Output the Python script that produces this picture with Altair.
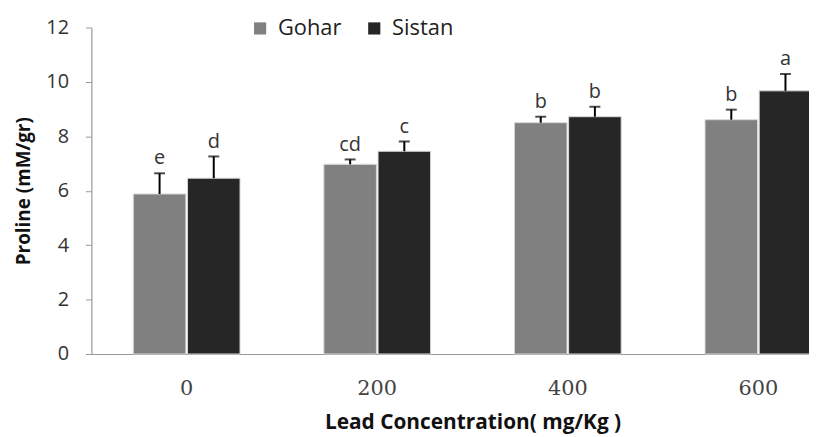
import altair as alt
import pandas as pd

# ---- data ----
concentrations = ["0", "200", "400", "600"]
varieties = ["Gohar", "Sistan"]
gohar_mean = [5.88, 6.97, 8.50, 8.61]
gohar_err = [0.76, 0.18, 0.22, 0.37]
sistan_mean = [6.46, 7.45, 8.72, 9.67]
sistan_err = [0.80, 0.36, 0.37, 0.62]
gohar_letters = ["e", "cd", "b", "b"]
sistan_letters = ["d", "c", "b", "a"]

rows = []
for i, c in enumerate(concentrations):
    rows.append({"conc": c, "variety": "Gohar", "mean": gohar_mean[i],
                 "upper": gohar_mean[i] + gohar_err[i], "letter": gohar_letters[i]})
    rows.append({"conc": c, "variety": "Sistan", "mean": sistan_mean[i],
                 "upper": sistan_mean[i] + sistan_err[i], "letter": sistan_letters[i]})
df = pd.DataFrame(rows)

SANS = "Open Sans"

x_enc = alt.X(
    "conc:N",
    sort=concentrations,
    scale=alt.Scale(range=[0, 768], paddingInner=0.44, paddingOuter=0.22),
    axis=alt.Axis(
        title="Lead Concentration( mg/Kg )",
        titleFont=SANS, titleFontSize=21, titleFontWeight="bold", titleColor="#111",
        titlePadding=13,
        labelFont="DejaVu Serif", labelFontSize=21, labelColor="#444",
        labelAngle=0, labelPadding=24,
        ticks=False, domainColor="#999", domainWidth=1.2,
    ),
)
xoff = alt.XOffset("variety:N", sort=varieties, scale=alt.Scale(paddingInner=0.03))
y_scale = alt.Scale(domain=[0, 12])

bars = alt.Chart(df).mark_bar(stroke="#d8d8d8", strokeWidth=1).encode(
    x=x_enc,
    xOffset=xoff,
    y=alt.Y(
        "mean:Q",
        scale=y_scale,
        axis=alt.Axis(
            title="Proline (mM/gr)",
            titleFont=SANS, titleFontSize=19, titleFontWeight="bold", titleColor="#111",
            titlePadding=12,
            values=[0, 2, 4, 6, 8, 10, 12],
            labelFont=SANS, labelFontSize=20, labelColor="#333", labelPadding=17,
            tickSize=6, tickColor="#999", domainColor="#999", domainWidth=1.2,
            grid=False,
        ),
    ),
    color=alt.Color(
        "variety:N",
        sort=varieties,
        scale=alt.Scale(domain=varieties, range=["#808080", "#262626"]),
        legend=alt.Legend(
            title=None, orient="none", direction="horizontal",
            legendX=159, legendY=-10,
            symbolType="square", symbolSize=150, symbolStrokeWidth=0,
            labelFont=SANS, labelFontSize=22, labelColor="#222",
            labelOffset=7, columnPadding=22,
        ),
    ),
)

err = alt.Chart(df).mark_rule(color="#000", strokeWidth=2).encode(
    x=alt.X("conc:N", sort=concentrations),
    xOffset=xoff,
    y=alt.Y("mean:Q", scale=y_scale),
    y2="upper:Q",
)

caps = alt.Chart(df).mark_tick(color="#000", thickness=2, size=11, orient="horizontal").encode(
    x=alt.X("conc:N", sort=concentrations),
    xOffset=xoff,
    y=alt.Y("upper:Q", scale=y_scale),
)

letters = alt.Chart(df).mark_text(
    font=SANS, fontSize=20, color="#333", baseline="alphabetic", dy=-9
).encode(
    x=alt.X("conc:N", sort=concentrations),
    xOffset=xoff,
    y=alt.Y("upper:Q", scale=y_scale),
    text="letter:N",
)

chart = (
    alt.layer(bars, err, caps, letters)
    .properties(
        width=723,
        height=329,
        autosize=alt.AutoSizeParams(type="none"),
        padding={"left": 84, "top": 18, "right": 0, "bottom": 80},
        background="white",
    )
    .configure_view(stroke=None)
)

chart.save("out.html", embed_options={"renderer": "svg", "actions": False})
